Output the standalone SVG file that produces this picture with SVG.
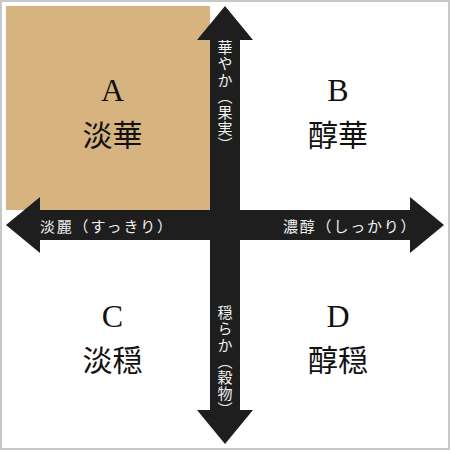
<svg xmlns="http://www.w3.org/2000/svg" width="450" height="450" viewBox="0 0 450 450">
<style>
.letter{font-family:"Liberation Serif","DejaVu Serif",serif;font-size:32px;fill:#111;text-anchor:middle}
.kanji{font-family:"Noto Sans CJK JP","Noto Sans CJK SC",sans-serif;font-size:30px;fill:#111;text-anchor:middle}
.lab{font-family:"Noto Sans CJK JP","Noto Sans CJK SC",sans-serif;font-size:15px;fill:#f2f2f2;letter-spacing:1.8px}
.vlab{font-family:"Noto Sans CJK JP","Noto Sans CJK SC",sans-serif;font-size:15px;fill:#f2f2f2;writing-mode:vertical-rl;letter-spacing:1.2px}
.arrow{fill:#1e1e1e}
</style>
<rect x="1" y="1" width="448" height="448" fill="#fff" stroke="#c8c8c8" stroke-width="2"/>
<g id="quadA">
<rect x="6" y="6" width="204" height="204" fill="#d7b47f"/>
<text class="letter" x="112.5" y="101">A</text>
<text class="kanji" x="112.5" y="146">淡華</text>
</g>
<g id="quadB">
<text class="letter" x="338" y="101">B</text>
<text class="kanji" x="338" y="146">醇華</text>
</g>
<g id="quadC">
<text class="letter" x="112.5" y="327">C</text>
<text class="kanji" x="112.5" y="371">淡穏</text>
</g>
<g id="quadD">
<text class="letter" x="338" y="327">D</text>
<text class="kanji" x="338" y="371">醇穏</text>
</g>
<g id="connectors">
<polygon class="arrow" points="225,6 253,40 240,40 240,410 253,410 225,444 197,410 210,410 210,40 197,40"/>
<polygon class="arrow" points="6,225 40,197 40,210 410,210 410,197 444,225 410,253 410,240 40,240 40,253"/>
</g>
<g id="labels">
<text class="lab" x="40" y="225" dominant-baseline="central">淡麗（すっきり）</text>
<text class="lab" x="283" y="225" dominant-baseline="central">濃醇（しっかり）</text>
<text class="vlab" x="225" y="40">華やか（果実）</text>
<text class="vlab" x="225" y="305">穏らか（穀物）</text>
</g>
</svg>
